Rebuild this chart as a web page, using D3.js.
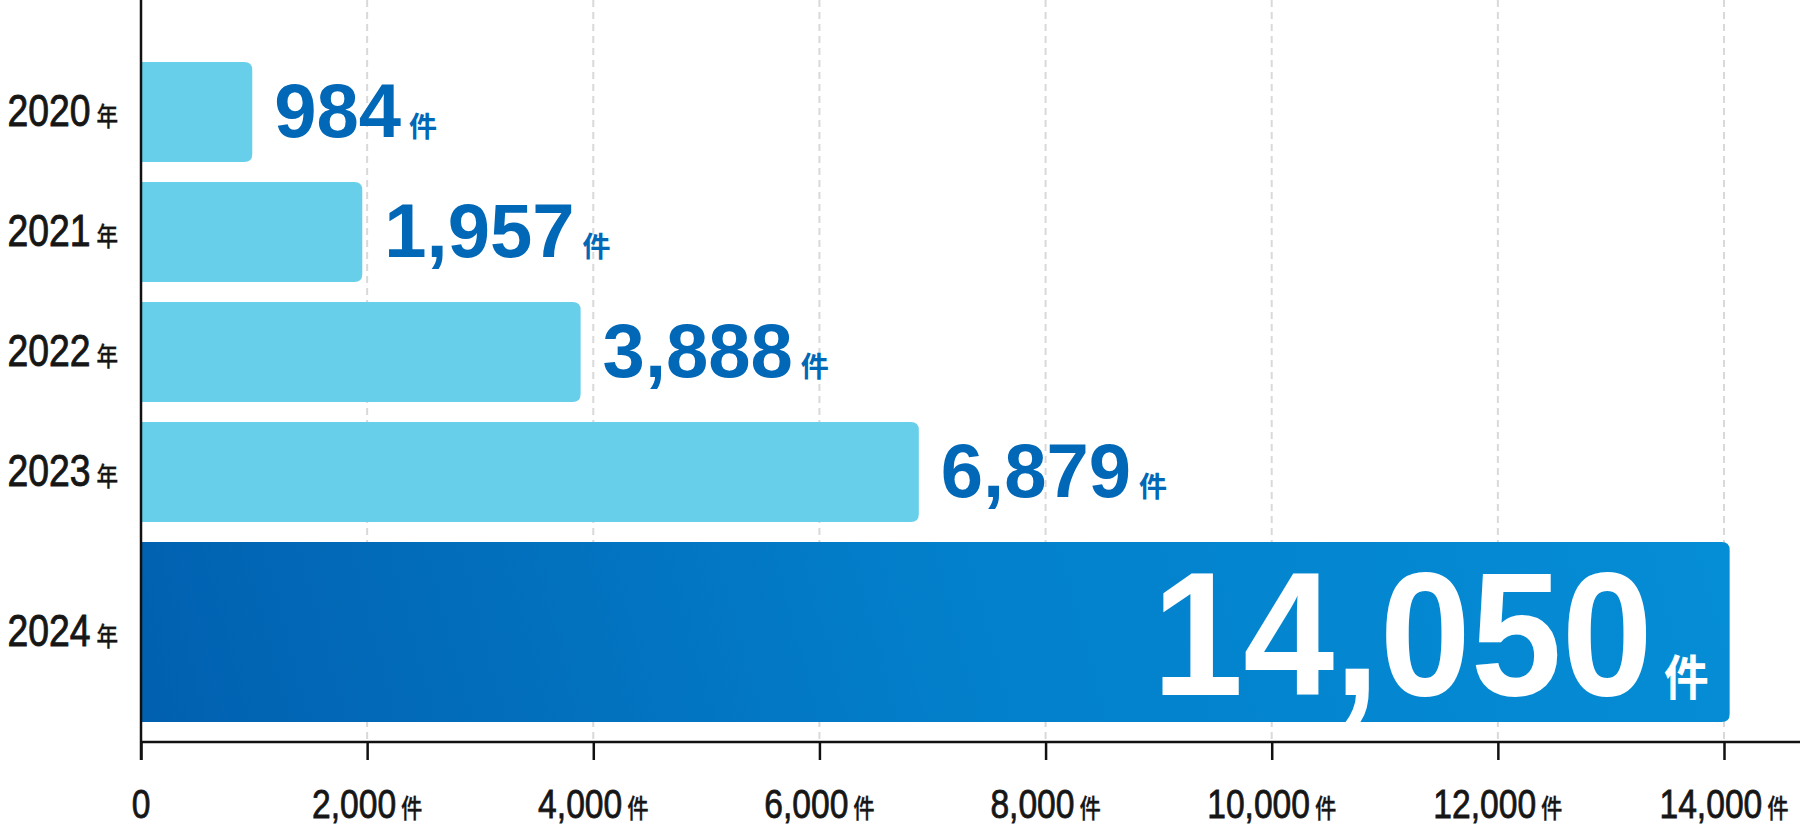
<!DOCTYPE html>
<html>
<head>
<meta charset="utf-8">
<script src="https://cdn.jsdelivr.net/npm/d3@7"></script>
<style>
html,body{margin:0;padding:0;background:#fff;}
svg{display:block;}
</style>
</head>
<body>
<svg id="chart" width="1800" height="830"></svg>
<script>
const years = ["2020", "2021", "2022", "2023", "2024"];
const values = [984, 1957, 3888, 6879, 14050];
const highlight = [false, false, false, false, true];
const rowWeights = [1, 1, 1, 1, 1.8];
const xTicks = [0, 2000, 4000, 6000, 8000, 10000, 12000, 14000];
const unitLabel = "件";
const yearUnit = "年";

const W = 1800, H = 830;
const svg = d3.select("#chart");
const numFont = "'Liberation Sans','Arial',sans-serif";
const boldFont = "'Liberation Sans','Arial','Roboto',sans-serif";
const cjkFont = "'Noto Sans CJK JP','Noto Sans',sans-serif";

const x = d3.scaleLinear().domain([0, 14000]).range([141, 1724]);

// vertical layout: rows with weights separated by gaps
const gap = 0.2;
const starts = [];
let acc = 0;
rowWeights.forEach((w, i) => { starts.push(acc); acc += w + (i < rowWeights.length - 1 ? gap : 0); });
const y = d3.scaleLinear().domain([0, acc]).range([62, 722]);
const rows = years.map((yr, i) => ({
  year: yr, value: values[i], hi: highlight[i],
  y0: y(starts[i]), y1: y(starts[i] + rowWeights[i])
}));

const axisY = 742;

// gradient (mostly horizontal, darker bottom-left)
const hiRow = rows.find(d => d.hi);
const defs = svg.append("defs");
const grad = defs.append("linearGradient").attr("id", "hiGrad")
  .attr("gradientUnits", "userSpaceOnUse")
  .attr("x1", x(0)).attr("y1", hiRow.y1)
  .attr("x2", x(hiRow.value)).attr("y2", hiRow.y0 - 250);
grad.append("stop").attr("offset", "0%").attr("stop-color", "#0160b0");
grad.append("stop").attr("offset", "50%").attr("stop-color", "#0380cb");
grad.append("stop").attr("offset", "100%").attr("stop-color", "#058ed6");

// gridlines
svg.append("g").selectAll("line").data(xTicks.filter(d => d > 0)).join("line")
  .attr("x1", d => x(d)).attr("x2", d => x(d))
  .attr("y1", 0).attr("y2", axisY)
  .attr("stroke", "#d9d9d9").attr("stroke-width", 2)
  .attr("stroke-dasharray", "7,5");

// bars
const r = 8;
function barPath(d) {
  const x0 = x(0), x1 = x(d.value), y0 = d.y0, y1 = d.y1;
  return `M${x0},${y0}H${x1 - r}Q${x1},${y0} ${x1},${y0 + r}V${y1 - r}Q${x1},${y1} ${x1 - r},${y1}H${x0}Z`;
}
svg.append("g").selectAll("path").data(rows).join("path")
  .attr("d", barPath)
  .attr("fill", d => d.hi ? "url(#hiGrad)" : "#67cfea");

// value labels
const fmt = d3.format(",");
const vl = svg.append("g").selectAll("text").data(rows).join("text")
  .attr("font-family", boldFont).attr("font-weight", "bold")
  .attr("fill", d => d.hi ? "#ffffff" : "#0068b7")
  .attr("text-anchor", d => d.hi ? "end" : "start")
  .attr("transform", d => d.hi
    ? `translate(${x(d.value) - 21},${(d.y0 + d.y1) / 2 + 63}) scale(0.93,1)`
    : `translate(${x(d.value) + 22},${(d.y0 + d.y1) / 2 + 25})`)
  .attr("font-size", d => d.hi ? 176 : 76);
vl.append("tspan").text(d => fmt(d.value));
vl.append("tspan").text(unitLabel)
  .attr("font-family", cjkFont).attr("font-weight", "bold")
  .attr("font-size", d => d.hi ? 48 : 28)
  .attr("dx", d => d.hi ? 12 : 8);

// year labels (condensed via horizontal scale)
const yl = svg.append("g").selectAll("text").data(rows).join("text")
  .attr("text-anchor", "end")
  .attr("transform", d => `translate(118,${(d.y0 + d.y1) / 2 + 14}) scale(0.83,1)`)
  .attr("fill", "#161616").attr("stroke", "#161616").attr("stroke-width", 0.9);
yl.append("tspan").text(d => d.year)
  .attr("font-family", numFont).attr("font-size", 45);
yl.append("tspan").text(yearUnit)
  .attr("font-family", cjkFont).attr("font-size", 26).attr("font-weight", 500)
  .attr("stroke-width", 0.3)
  .attr("dx", 7);

// x axis
const xAxis = d3.axisBottom(x).tickValues(xTicks).tickSize(18).tickPadding(0).tickFormat(() => "");
const ax = svg.append("g").attr("transform", `translate(0,${axisY})`).call(xAxis);
ax.select(".domain").remove();
ax.selectAll(".tick line").attr("stroke", "#111").attr("stroke-width", 2.5);
svg.append("line").attr("x1", x(0) - 1).attr("x2", W).attr("y1", axisY).attr("y2", axisY)
  .attr("stroke", "#111").attr("stroke-width", 2.5);
svg.append("line").attr("x1", x(0)).attr("x2", x(0)).attr("y1", 0).attr("y2", axisY + 18)
  .attr("stroke", "#111").attr("stroke-width", 2.5);

// tick labels (condensed via horizontal scale)
const tl = svg.append("g").selectAll("text").data(xTicks).join("text")
  .attr("text-anchor", "middle")
  .attr("transform", d => `translate(${x(d)},818) scale(0.82,1)`)
  .attr("fill", "#161616").attr("stroke", "#161616").attr("stroke-width", 0.8);
tl.append("tspan").text(d => fmt(d)).attr("font-family", numFont).attr("font-size", 41);
tl.filter(d => d > 0).append("tspan").text(unitLabel)
  .attr("font-family", cjkFont).attr("font-size", 26).attr("font-weight", 500)
  .attr("stroke-width", 0.3).attr("dx", 6);
</script>
</body>
</html>
